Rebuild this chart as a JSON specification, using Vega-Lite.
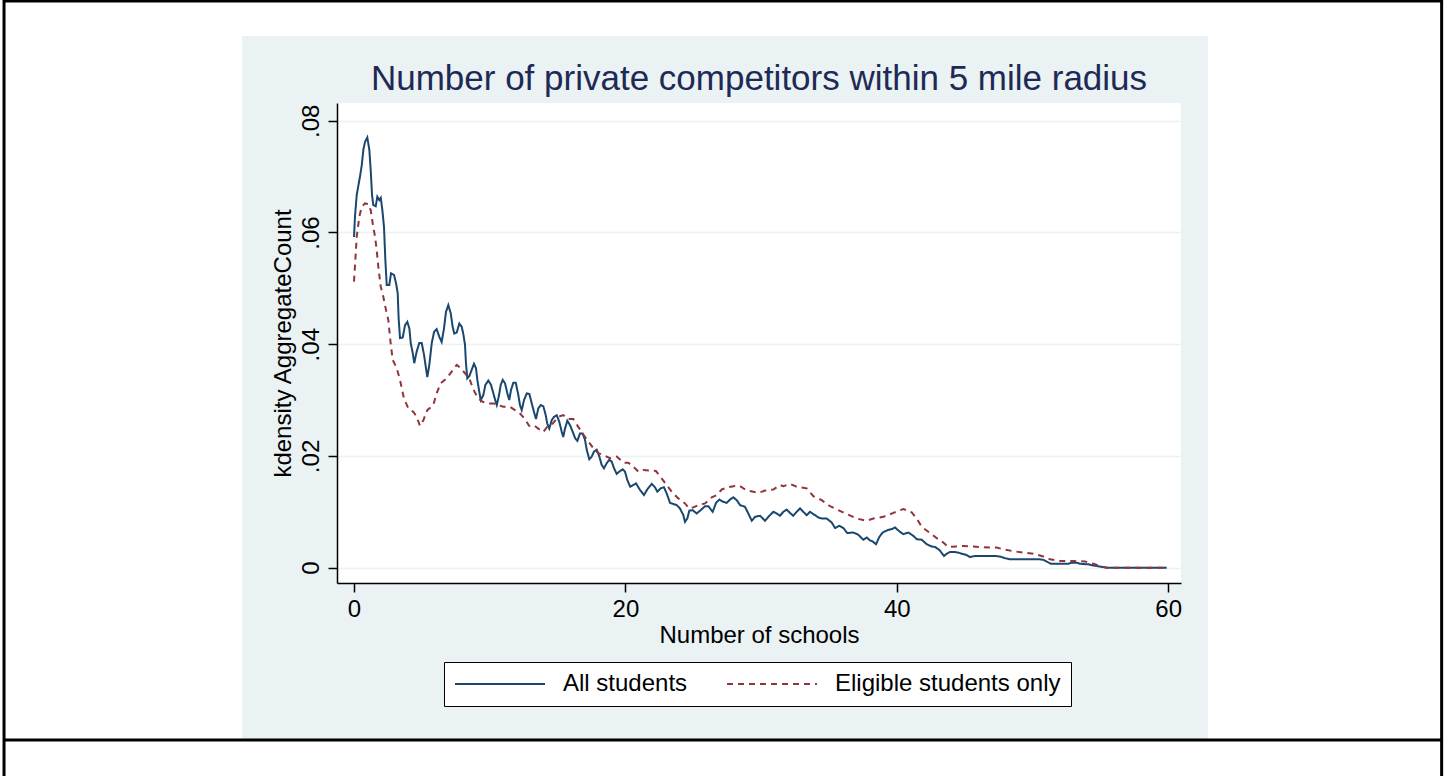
{
  "$schema": "https://vega.github.io/schema/vega-lite/v6.json",
  "width": 844,
  "height": 480,
  "autosize": {"type": "none"},
  "padding": {"left": 337, "top": 103, "right": 266, "bottom": 193},
  "background": "#EAF2F3",
  "config": {
    "font": "Liberation Sans, Arial, sans-serif",
    "view": {"fill": "#FFFFFF", "stroke": null},
    "axis": {
      "domainColor": "#000000",
      "domainWidth": 1.5,
      "tickColor": "#000000",
      "tickWidth": 1.5,
      "tickSize": 9,
      "labelColor": "#000000",
      "labelFontSize": 24,
      "titleColor": "#000000",
      "titleFontSize": 24,
      "titleFontWeight": "normal"
    }
  },
  "title": {
    "text": "Number of private competitors within 5 mile radius",
    "fontSize": 35,
    "fontWeight": "normal",
    "color": "#1E2A55",
    "anchor": "middle",
    "frame": "group",
    "baseline": "alphabetic",
    "offset": -126
  },
  "datasets": {
    "curves": [
      {"series":"All students","schools":0.00,"density":0.0592},
      {"series":"All students","schools":0.07,"density":0.0628},
      {"series":"All students","schools":0.20,"density":0.0667},
      {"series":"All students","schools":0.44,"density":0.0700},
      {"series":"All students","schools":0.57,"density":0.0720},
      {"series":"All students","schools":0.69,"density":0.0748},
      {"series":"All students","schools":0.81,"density":0.0762},
      {"series":"All students","schools":0.98,"density":0.0770},
      {"series":"All students","schools":1.13,"density":0.0748},
      {"series":"All students","schools":1.23,"density":0.0712},
      {"series":"All students","schools":1.33,"density":0.0667},
      {"series":"All students","schools":1.42,"density":0.0649},
      {"series":"All students","schools":1.60,"density":0.0647},
      {"series":"All students","schools":1.72,"density":0.0664},
      {"series":"All students","schools":1.86,"density":0.0658},
      {"series":"All students","schools":1.97,"density":0.0662},
      {"series":"All students","schools":2.09,"density":0.0640},
      {"series":"All students","schools":2.21,"density":0.0610},
      {"series":"All students","schools":2.31,"density":0.0551},
      {"series":"All students","schools":2.41,"density":0.0506},
      {"series":"All students","schools":2.60,"density":0.0506},
      {"series":"All students","schools":2.73,"density":0.0527},
      {"series":"All students","schools":2.95,"density":0.0524},
      {"series":"All students","schools":3.10,"density":0.0509},
      {"series":"All students","schools":3.22,"density":0.0491},
      {"series":"All students","schools":3.29,"density":0.0446},
      {"series":"All students","schools":3.39,"density":0.0411},
      {"series":"All students","schools":3.59,"density":0.0412},
      {"series":"All students","schools":3.76,"density":0.0434},
      {"series":"All students","schools":3.93,"density":0.0440},
      {"series":"All students","schools":4.08,"density":0.0428},
      {"series":"All students","schools":4.18,"density":0.0402},
      {"series":"All students","schools":4.33,"density":0.0384},
      {"series":"All students","schools":4.44,"density":0.0366},
      {"series":"All students","schools":4.62,"density":0.0387},
      {"series":"All students","schools":4.81,"density":0.0402},
      {"series":"All students","schools":4.99,"density":0.0402},
      {"series":"All students","schools":5.16,"density":0.0381},
      {"series":"All students","schools":5.40,"density":0.0341},
      {"series":"All students","schools":5.55,"density":0.0363},
      {"series":"All students","schools":5.73,"density":0.0402},
      {"series":"All students","schools":5.90,"density":0.0422},
      {"series":"All students","schools":6.09,"density":0.0427},
      {"series":"All students","schools":6.29,"density":0.0413},
      {"series":"All students","schools":6.46,"density":0.0404},
      {"series":"All students","schools":6.63,"density":0.0428},
      {"series":"All students","schools":6.78,"density":0.0458},
      {"series":"All students","schools":6.95,"density":0.0470},
      {"series":"All students","schools":7.13,"density":0.0455},
      {"series":"All students","schools":7.27,"density":0.0431},
      {"series":"All students","schools":7.39,"density":0.0419},
      {"series":"All students","schools":7.57,"density":0.0421},
      {"series":"All students","schools":7.76,"density":0.0437},
      {"series":"All students","schools":7.94,"density":0.0431},
      {"series":"All students","schools":8.05,"density":0.0419},
      {"series":"All students","schools":8.18,"density":0.0399},
      {"series":"All students","schools":8.25,"density":0.0366},
      {"series":"All students","schools":8.35,"density":0.0339},
      {"series":"All students","schools":8.50,"density":0.0343},
      {"series":"All students","schools":8.67,"density":0.0354},
      {"series":"All students","schools":8.84,"density":0.0365},
      {"series":"All students","schools":8.99,"density":0.0357},
      {"series":"All students","schools":9.09,"density":0.0336},
      {"series":"All students","schools":9.23,"density":0.0315},
      {"series":"All students","schools":9.34,"density":0.0300},
      {"series":"All students","schools":9.53,"density":0.0309},
      {"series":"All students","schools":9.68,"density":0.0327},
      {"series":"All students","schools":9.90,"density":0.0335},
      {"series":"All students","schools":10.10,"density":0.0327},
      {"series":"All students","schools":10.27,"density":0.0312},
      {"series":"All students","schools":10.44,"density":0.0297},
      {"series":"All students","schools":10.52,"density":0.0291},
      {"series":"All students","schools":10.69,"density":0.0309},
      {"series":"All students","schools":10.81,"density":0.0327},
      {"series":"All students","schools":10.96,"density":0.0336},
      {"series":"All students","schools":11.13,"density":0.0330},
      {"series":"All students","schools":11.30,"density":0.0312},
      {"series":"All students","schools":11.44,"density":0.0300},
      {"series":"All students","schools":11.57,"density":0.0318},
      {"series":"All students","schools":11.74,"density":0.0331},
      {"series":"All students","schools":11.92,"density":0.0331},
      {"series":"All students","schools":12.11,"density":0.0309},
      {"series":"All students","schools":12.23,"density":0.0291},
      {"series":"All students","schools":12.36,"density":0.0282},
      {"series":"All students","schools":12.53,"density":0.0300},
      {"series":"All students","schools":12.73,"density":0.0312},
      {"series":"All students","schools":12.92,"density":0.0311},
      {"series":"All students","schools":13.10,"density":0.0294},
      {"series":"All students","schools":13.26,"density":0.0279},
      {"series":"All students","schools":13.41,"density":0.0266},
      {"series":"All students","schools":13.58,"density":0.0285},
      {"series":"All students","schools":13.76,"density":0.0291},
      {"series":"All students","schools":13.95,"density":0.0289},
      {"series":"All students","schools":14.13,"density":0.0273},
      {"series":"All students","schools":14.24,"density":0.0258},
      {"series":"All students","schools":14.39,"density":0.0249},
      {"series":"All students","schools":14.57,"density":0.0264},
      {"series":"All students","schools":14.74,"density":0.0270},
      {"series":"All students","schools":14.94,"density":0.0273},
      {"series":"All students","schools":15.13,"density":0.0261},
      {"series":"All students","schools":15.31,"density":0.0243},
      {"series":"All students","schools":15.42,"density":0.0234},
      {"series":"All students","schools":15.55,"density":0.0249},
      {"series":"All students","schools":15.72,"density":0.0263},
      {"series":"All students","schools":15.92,"density":0.0255},
      {"series":"All students","schools":16.12,"density":0.0243},
      {"series":"All students","schools":16.29,"density":0.0232},
      {"series":"All students","schools":16.46,"density":0.0227},
      {"series":"All students","schools":16.65,"density":0.0240},
      {"series":"All students","schools":16.85,"density":0.0240},
      {"series":"All students","schools":17.02,"density":0.0229},
      {"series":"All students","schools":17.15,"density":0.0211},
      {"series":"All students","schools":17.34,"density":0.0194},
      {"series":"All students","schools":17.52,"density":0.0199},
      {"series":"All students","schools":17.69,"density":0.0208},
      {"series":"All students","schools":17.89,"density":0.0211},
      {"series":"All students","schools":18.08,"density":0.0199},
      {"series":"All students","schools":18.25,"density":0.0184},
      {"series":"All students","schools":18.42,"density":0.0178},
      {"series":"All students","schools":18.62,"density":0.0187},
      {"series":"All students","schools":18.81,"density":0.0193},
      {"series":"All students","schools":18.99,"density":0.0190},
      {"series":"All students","schools":19.16,"density":0.0178},
      {"series":"All students","schools":19.36,"density":0.0168},
      {"series":"All students","schools":19.55,"density":0.0172},
      {"series":"All students","schools":19.80,"density":0.0176},
      {"series":"All students","schools":19.97,"density":0.0172},
      {"series":"All students","schools":20.14,"density":0.0157},
      {"series":"All students","schools":20.35,"density":0.0145},
      {"series":"All students","schools":20.58,"density":0.0148},
      {"series":"All students","schools":20.78,"density":0.0151},
      {"series":"All students","schools":21.08,"density":0.0139},
      {"series":"All students","schools":21.37,"density":0.0130},
      {"series":"All students","schools":21.61,"density":0.0140},
      {"series":"All students","schools":21.94,"density":0.0150},
      {"series":"All students","schools":22.18,"density":0.0144},
      {"series":"All students","schools":22.35,"density":0.0136},
      {"series":"All students","schools":22.60,"density":0.0142},
      {"series":"All students","schools":22.84,"density":0.0144},
      {"series":"All students","schools":23.04,"density":0.0133},
      {"series":"All students","schools":23.29,"density":0.0116},
      {"series":"All students","schools":23.53,"density":0.0114},
      {"series":"All students","schools":23.78,"density":0.0112},
      {"series":"All students","schools":24.02,"density":0.0106},
      {"series":"All students","schools":24.27,"density":0.0094},
      {"series":"All students","schools":24.39,"density":0.0082},
      {"series":"All students","schools":24.56,"density":0.0088},
      {"series":"All students","schools":24.71,"density":0.0102},
      {"series":"All students","schools":24.96,"density":0.0103},
      {"series":"All students","schools":25.25,"density":0.0097},
      {"series":"All students","schools":25.50,"density":0.0102},
      {"series":"All students","schools":25.87,"density":0.0110},
      {"series":"All students","schools":26.11,"density":0.0110},
      {"series":"All students","schools":26.43,"density":0.0100},
      {"series":"All students","schools":26.68,"density":0.0116},
      {"series":"All students","schools":26.92,"density":0.0122},
      {"series":"All students","schools":27.21,"density":0.0118},
      {"series":"All students","schools":27.46,"density":0.0116},
      {"series":"All students","schools":27.71,"density":0.0122},
      {"series":"All students","schools":27.95,"density":0.0126},
      {"series":"All students","schools":28.20,"density":0.0121},
      {"series":"All students","schools":28.45,"density":0.0112},
      {"series":"All students","schools":28.81,"density":0.0109},
      {"series":"All students","schools":29.06,"density":0.0097},
      {"series":"All students","schools":29.31,"density":0.0084},
      {"series":"All students","schools":29.55,"density":0.0091},
      {"series":"All students","schools":29.92,"density":0.0093},
      {"series":"All students","schools":30.29,"density":0.0084},
      {"series":"All students","schools":30.53,"density":0.0091},
      {"series":"All students","schools":30.90,"density":0.0100},
      {"series":"All students","schools":31.15,"density":0.0097},
      {"series":"All students","schools":31.39,"density":0.0093},
      {"series":"All students","schools":31.64,"density":0.0100},
      {"series":"All students","schools":31.89,"density":0.0104},
      {"series":"All students","schools":32.13,"density":0.0098},
      {"series":"All students","schools":32.37,"density":0.0093},
      {"series":"All students","schools":32.62,"density":0.0100},
      {"series":"All students","schools":32.87,"density":0.0106},
      {"series":"All students","schools":33.11,"density":0.0100},
      {"series":"All students","schools":33.36,"density":0.0094},
      {"series":"All students","schools":33.60,"density":0.0100},
      {"series":"All students","schools":33.97,"density":0.0094},
      {"series":"All students","schools":34.22,"density":0.0090},
      {"series":"All students","schools":34.46,"density":0.0088},
      {"series":"All students","schools":34.83,"density":0.0088},
      {"series":"All students","schools":35.20,"density":0.0081},
      {"series":"All students","schools":35.45,"density":0.0071},
      {"series":"All students","schools":35.76,"density":0.0075},
      {"series":"All students","schools":36.06,"density":0.0071},
      {"series":"All students","schools":36.35,"density":0.0062},
      {"series":"All students","schools":36.79,"density":0.0063},
      {"series":"All students","schools":37.16,"density":0.0059},
      {"series":"All students","schools":37.53,"density":0.0050},
      {"series":"All students","schools":37.78,"density":0.0054},
      {"series":"All students","schools":38.02,"density":0.0049},
      {"series":"All students","schools":38.22,"density":0.0047},
      {"series":"All students","schools":38.47,"density":0.0042},
      {"series":"All students","schools":38.71,"density":0.0055},
      {"series":"All students","schools":38.96,"density":0.0063},
      {"series":"All students","schools":39.30,"density":0.0067},
      {"series":"All students","schools":39.62,"density":0.0069},
      {"series":"All students","schools":39.87,"density":0.0072},
      {"series":"All students","schools":40.24,"density":0.0064},
      {"series":"All students","schools":40.48,"density":0.0060},
      {"series":"All students","schools":40.85,"density":0.0063},
      {"series":"All students","schools":41.22,"density":0.0057},
      {"series":"All students","schools":41.47,"density":0.0051},
      {"series":"All students","schools":41.84,"density":0.0050},
      {"series":"All students","schools":42.20,"density":0.0042},
      {"series":"All students","schools":42.57,"density":0.0038},
      {"series":"All students","schools":42.82,"density":0.0037},
      {"series":"All students","schools":43.13,"density":0.0032},
      {"series":"All students","schools":43.48,"density":0.0021},
      {"series":"All students","schools":43.68,"density":0.0025},
      {"series":"All students","schools":43.92,"density":0.0028},
      {"series":"All students","schools":44.29,"density":0.0028},
      {"series":"All students","schools":44.53,"density":0.0027},
      {"series":"All students","schools":44.78,"density":0.0025},
      {"series":"All students","schools":45.10,"density":0.0023},
      {"series":"All students","schools":45.39,"density":0.0019},
      {"series":"All students","schools":45.76,"density":0.0021},
      {"series":"All students","schools":46.62,"density":0.0021},
      {"series":"All students","schools":47.24,"density":0.0021},
      {"series":"All students","schools":47.60,"density":0.0020},
      {"series":"All students","schools":47.97,"density":0.0017},
      {"series":"All students","schools":48.34,"density":0.0015},
      {"series":"All students","schools":50.55,"density":0.0015},
      {"series":"All students","schools":50.80,"density":0.0014},
      {"series":"All students","schools":51.05,"density":0.0011},
      {"series":"All students","schools":51.34,"density":0.0007},
      {"series":"All students","schools":52.64,"density":0.0007},
      {"series":"All students","schools":52.89,"density":0.0009},
      {"series":"All students","schools":53.26,"density":0.0009},
      {"series":"All students","schools":53.50,"density":0.0007},
      {"series":"All students","schools":54.11,"density":0.0006},
      {"series":"All students","schools":54.48,"density":0.0004},
      {"series":"All students","schools":55.22,"density":0.0001},
      {"series":"All students","schools":55.47,"density":0.0},
      {"series":"All students","schools":59.89,"density":0.0},
      {"series":"Eligible students only","schools":0.00,"density":0.0512},
      {"series":"Eligible students only","schools":0.07,"density":0.0539},
      {"series":"Eligible students only","schools":0.20,"density":0.0592},
      {"series":"Eligible students only","schools":0.39,"density":0.0628},
      {"series":"Eligible students only","schools":0.57,"density":0.0646},
      {"series":"Eligible students only","schools":0.81,"density":0.0652},
      {"series":"Eligible students only","schools":1.05,"density":0.0651},
      {"series":"Eligible students only","schools":1.23,"density":0.0640},
      {"series":"Eligible students only","schools":1.38,"density":0.0616},
      {"series":"Eligible students only","schools":1.55,"density":0.0592},
      {"series":"Eligible students only","schools":1.67,"density":0.0569},
      {"series":"Eligible students only","schools":1.79,"density":0.0539},
      {"series":"Eligible students only","schools":1.97,"density":0.0503},
      {"series":"Eligible students only","schools":2.16,"density":0.0485},
      {"series":"Eligible students only","schools":2.36,"density":0.0461},
      {"series":"Eligible students only","schools":2.53,"density":0.0443},
      {"series":"Eligible students only","schools":2.70,"density":0.0402},
      {"series":"Eligible students only","schools":2.85,"density":0.0372},
      {"series":"Eligible students only","schools":3.15,"density":0.0357},
      {"series":"Eligible students only","schools":3.39,"density":0.0336},
      {"series":"Eligible students only","schools":3.68,"density":0.0303},
      {"series":"Eligible students only","schools":4.00,"density":0.0285},
      {"series":"Eligible students only","schools":4.37,"density":0.0279},
      {"series":"Eligible students only","schools":4.62,"density":0.0270},
      {"series":"Eligible students only","schools":4.86,"density":0.0254},
      {"series":"Eligible students only","schools":5.11,"density":0.0264},
      {"series":"Eligible students only","schools":5.40,"density":0.0282},
      {"series":"Eligible students only","schools":5.84,"density":0.0291},
      {"series":"Eligible students only","schools":6.09,"density":0.0312},
      {"series":"Eligible students only","schools":6.39,"density":0.0330},
      {"series":"Eligible students only","schools":6.83,"density":0.0339},
      {"series":"Eligible students only","schools":7.20,"density":0.0351},
      {"series":"Eligible students only","schools":7.57,"density":0.0363},
      {"series":"Eligible students only","schools":7.86,"density":0.0357},
      {"series":"Eligible students only","schools":8.18,"density":0.0348},
      {"series":"Eligible students only","schools":8.50,"density":0.0339},
      {"series":"Eligible students only","schools":8.67,"density":0.0327},
      {"series":"Eligible students only","schools":8.92,"density":0.0313},
      {"series":"Eligible students only","schools":9.16,"density":0.0303},
      {"series":"Eligible students only","schools":9.48,"density":0.0297},
      {"series":"Eligible students only","schools":9.82,"density":0.0294},
      {"series":"Eligible students only","schools":10.27,"density":0.0294},
      {"series":"Eligible students only","schools":10.63,"density":0.0291},
      {"series":"Eligible students only","schools":11.00,"density":0.0288},
      {"series":"Eligible students only","schools":11.50,"density":0.0288},
      {"series":"Eligible students only","schools":11.86,"density":0.0282},
      {"series":"Eligible students only","schools":12.23,"density":0.0276},
      {"series":"Eligible students only","schools":12.60,"density":0.0266},
      {"series":"Eligible students only","schools":12.90,"density":0.0254},
      {"series":"Eligible students only","schools":13.26,"density":0.0255},
      {"series":"Eligible students only","schools":13.58,"density":0.0249},
      {"series":"Eligible students only","schools":13.95,"density":0.0243},
      {"series":"Eligible students only","schools":14.32,"density":0.0255},
      {"series":"Eligible students only","schools":14.64,"density":0.0258},
      {"series":"Eligible students only","schools":15.06,"density":0.0270},
      {"series":"Eligible students only","schools":15.42,"density":0.0273},
      {"series":"Eligible students only","schools":15.79,"density":0.0266},
      {"series":"Eligible students only","schools":16.16,"density":0.0266},
      {"series":"Eligible students only","schools":16.53,"density":0.0252},
      {"series":"Eligible students only","schools":16.90,"density":0.0238},
      {"series":"Eligible students only","schools":17.27,"density":0.0226},
      {"series":"Eligible students only","schools":17.63,"density":0.0214},
      {"series":"Eligible students only","schools":18.00,"density":0.0205},
      {"series":"Eligible students only","schools":18.37,"density":0.0202},
      {"series":"Eligible students only","schools":18.86,"density":0.0196},
      {"series":"Eligible students only","schools":19.36,"density":0.0199},
      {"series":"Eligible students only","schools":19.85,"density":0.0188},
      {"series":"Eligible students only","schools":20.21,"density":0.0188},
      {"series":"Eligible students only","schools":20.58,"density":0.0181},
      {"series":"Eligible students only","schools":20.95,"density":0.0172},
      {"series":"Eligible students only","schools":21.32,"density":0.0175},
      {"series":"Eligible students only","schools":21.76,"density":0.0174},
      {"series":"Eligible students only","schools":22.25,"density":0.0173},
      {"series":"Eligible students only","schools":22.67,"density":0.0160},
      {"series":"Eligible students only","schools":23.04,"density":0.0148},
      {"series":"Eligible students only","schools":23.41,"density":0.0136},
      {"series":"Eligible students only","schools":23.90,"density":0.0124},
      {"series":"Eligible students only","schools":24.39,"density":0.0115},
      {"series":"Eligible students only","schools":24.71,"density":0.0106},
      {"series":"Eligible students only","schools":25.00,"density":0.0108},
      {"series":"Eligible students only","schools":25.37,"density":0.0112},
      {"series":"Eligible students only","schools":25.87,"density":0.0115},
      {"series":"Eligible students only","schools":26.36,"density":0.0126},
      {"series":"Eligible students only","schools":26.73,"density":0.0130},
      {"series":"Eligible students only","schools":27.10,"density":0.0140},
      {"series":"Eligible students only","schools":27.58,"density":0.0144},
      {"series":"Eligible students only","schools":28.08,"density":0.0146},
      {"series":"Eligible students only","schools":28.45,"density":0.0146},
      {"series":"Eligible students only","schools":28.94,"density":0.0138},
      {"series":"Eligible students only","schools":29.43,"density":0.0136},
      {"series":"Eligible students only","schools":29.79,"density":0.0134},
      {"series":"Eligible students only","schools":30.29,"density":0.0138},
      {"series":"Eligible students only","schools":30.90,"density":0.0140},
      {"series":"Eligible students only","schools":31.39,"density":0.0148},
      {"series":"Eligible students only","schools":31.64,"density":0.0146},
      {"series":"Eligible students only","schools":32.13,"density":0.0150},
      {"series":"Eligible students only","schools":32.62,"density":0.0145},
      {"series":"Eligible students only","schools":33.36,"density":0.0142},
      {"series":"Eligible students only","schools":33.85,"density":0.0128},
      {"series":"Eligible students only","schools":34.46,"density":0.0121},
      {"series":"Eligible students only","schools":35.08,"density":0.0110},
      {"series":"Eligible students only","schools":35.69,"density":0.0103},
      {"series":"Eligible students only","schools":36.31,"density":0.0096},
      {"series":"Eligible students only","schools":37.04,"density":0.0088},
      {"series":"Eligible students only","schools":37.78,"density":0.0084},
      {"series":"Eligible students only","schools":38.27,"density":0.0088},
      {"series":"Eligible students only","schools":39.00,"density":0.0091},
      {"series":"Eligible students only","schools":39.75,"density":0.0098},
      {"series":"Eligible students only","schools":40.24,"density":0.0103},
      {"series":"Eligible students only","schools":40.48,"density":0.0105},
      {"series":"Eligible students only","schools":41.10,"density":0.0099},
      {"series":"Eligible students only","schools":41.47,"density":0.0088},
      {"series":"Eligible students only","schools":41.84,"density":0.0073},
      {"series":"Eligible students only","schools":42.45,"density":0.0062},
      {"series":"Eligible students only","schools":42.94,"density":0.0053},
      {"series":"Eligible students only","schools":43.43,"density":0.0045},
      {"series":"Eligible students only","schools":43.80,"density":0.0037},
      {"series":"Eligible students only","schools":44.41,"density":0.0038},
      {"series":"Eligible students only","schools":44.90,"density":0.0039},
      {"series":"Eligible students only","schools":45.64,"density":0.0038},
      {"series":"Eligible students only","schools":46.13,"density":0.0037},
      {"series":"Eligible students only","schools":46.87,"density":0.0036},
      {"series":"Eligible students only","schools":47.36,"density":0.0036},
      {"series":"Eligible students only","schools":47.85,"density":0.0033},
      {"series":"Eligible students only","schools":48.47,"density":0.0030},
      {"series":"Eligible students only","schools":49.32,"density":0.0027},
      {"series":"Eligible students only","schools":50.06,"density":0.0025},
      {"series":"Eligible students only","schools":50.80,"density":0.0020},
      {"series":"Eligible students only","schools":51.29,"density":0.0015},
      {"series":"Eligible students only","schools":52.03,"density":0.0012},
      {"series":"Eligible students only","schools":53.01,"density":0.0012},
      {"series":"Eligible students only","schools":53.87,"density":0.0011},
      {"series":"Eligible students only","schools":54.48,"density":0.0007},
      {"series":"Eligible students only","schools":54.97,"density":0.0003},
      {"series":"Eligible students only","schools":55.47,"density":0.0},
      {"series":"Eligible students only","schools":59.89,"density":0.0}
    ]
  },
  "layer": [
    {
      "data": {"name": "curves"},
      "mark": {"type": "line", "strokeWidth": 2, "clip": true},
      "encoding": {
        "x": {
          "field": "schools",
          "type": "quantitative",
          "title": "Number of schools",
          "scale": {"domain": [-1.253, 60.943], "nice": false, "zero": false},
          "axis": {"values": [0, 20, 40, 60], "grid": false, "labelPadding": 5, "titlePadding": 2}
        },
        "y": {
          "field": "density",
          "type": "quantitative",
          "title": "kdensity AggregateCount",
          "scale": {"domain": [-0.00274, 0.08317], "nice": false, "zero": false},
          "axis": {
            "values": [0, 0.02, 0.04, 0.06, 0.08],
            "grid": true,
            "gridColor": "#EAF2F3",
            "gridWidth": 1.5,
            "labelAngle": 270,
            "labelPadding": 5,
            "labelExpr": "datum.value == 0 ? '0' : '.0' + round(datum.value * 100)",
            "titlePadding": 4
          }
        },
        "color": {
          "field": "series",
          "type": "nominal",
          "scale": {"domain": ["All students", "Eligible students only"], "range": ["#1A476F", "#90353B"]},
          "legend": {
            "title": null,
            "orient": "none",
            "legendX": 107,
            "legendY": 559,
            "direction": "horizontal",
            "fillColor": "#FFFFFF",
            "strokeColor": "#000000",
            "padding": 10,
            "symbolType": "stroke",
            "symbolSize": 8100,
            "symbolStrokeWidth": 2,
            "clipHeight": 24,
            "labelFontSize": 24,
            "labelColor": "#000000",
            "labelOffset": 17,
            "labelLimit": 400,
            "columnPadding": 38
          }
        },
        "strokeDash": {
          "field": "series",
          "type": "nominal",
          "scale": {"domain": ["All students", "Eligible students only"], "range": [[1, 0], [6, 5]]},
          "legend": {
            "title": null,
            "orient": "none",
            "legendX": 107,
            "legendY": 559,
            "direction": "horizontal",
            "fillColor": "#FFFFFF",
            "strokeColor": "#000000",
            "padding": 10,
            "symbolType": "stroke",
            "symbolSize": 8100,
            "symbolStrokeWidth": 2,
            "clipHeight": 24,
            "labelFontSize": 24,
            "labelColor": "#000000",
            "labelOffset": 17,
            "labelLimit": 400,
            "columnPadding": 38
          }
        }
      }
    },
    {
      "data": {"values": [
        {"x1": -26.09, "x2": 80.55, "y1": 0.1016, "y2": 0.09516},
        {"x1": -26.09, "x2": 80.55, "y1": -0.03084, "y2": -0.0373},
        {"x1": -26.09, "x2": -8.254, "y1": 0.1016, "y2": -0.0373},
        {"x1": 62.933, "x2": 80.55, "y1": 0.1016, "y2": -0.0373}
      ]},
      "mark": {"type": "rect", "fill": "#FFFFFF", "clip": false},
      "encoding": {
        "x": {"field": "x1", "type": "quantitative", "title": "Number of schools"},
        "x2": {"field": "x2"},
        "y": {"field": "y1", "type": "quantitative", "title": "kdensity AggregateCount"},
        "y2": {"field": "y2"}
      }
    },
    {
      "data": {"values": [{"a": -25.79, "b": 0.1016, "c": -0.0373}, {"a": 80.15, "b": 0.1016, "c": -0.0373}]},
      "mark": {"type": "rule", "color": "#000000", "strokeWidth": 3, "clip": false},
      "encoding": {
        "x": {"field": "a", "type": "quantitative", "title": "Number of schools"},
        "y": {"field": "b", "type": "quantitative", "title": "kdensity AggregateCount"},
        "y2": {"field": "c"}
      }
    },
    {
      "data": {"values": [{"a": -25.79, "a2": 80.15, "b": -0.03084}, {"a": -25.79, "a2": 80.15, "b": 0.10142}]},
      "mark": {"type": "rule", "color": "#000000", "strokeWidth": 3, "clip": false},
      "encoding": {
        "x": {"field": "a", "type": "quantitative", "title": "Number of schools"},
        "x2": {"field": "a2"},
        "y": {"field": "b", "type": "quantitative", "title": "kdensity AggregateCount"}
      }
    }
  ]
}
